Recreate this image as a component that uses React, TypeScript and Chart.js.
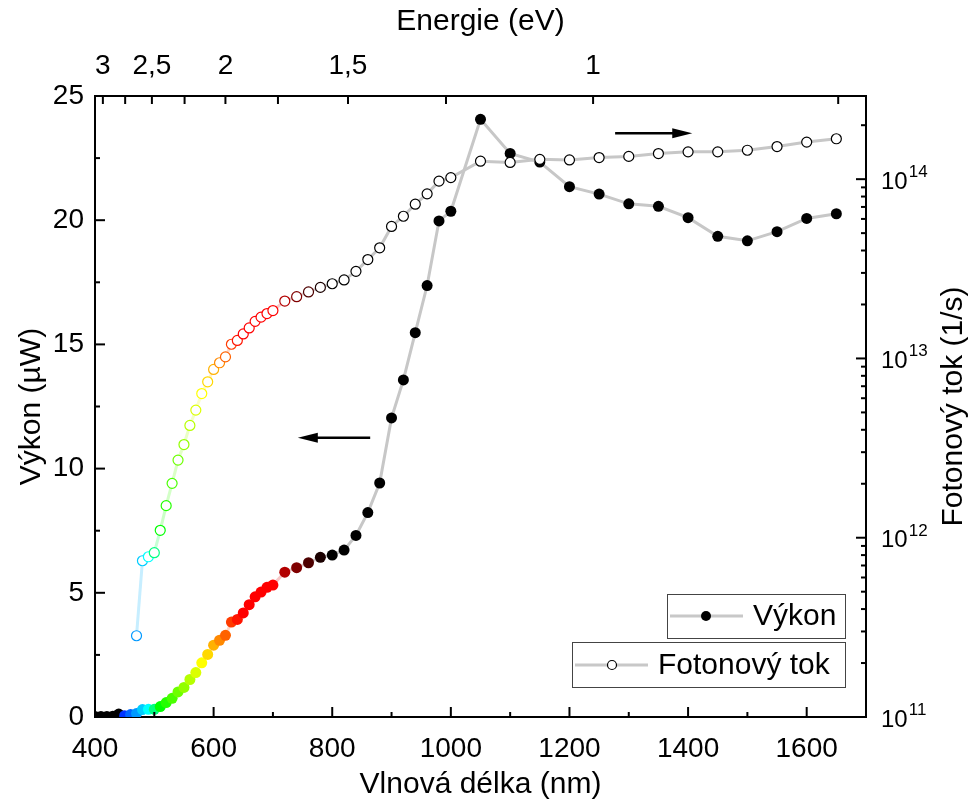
import React, { useEffect, useRef } from "react";
import { Chart, registerables } from "chart.js";

Chart.register(...registerables);

// ---------- data ----------
const powerWavelengths = [
  400, 410, 420, 430, 440, 450, 460, 470, 480, 490, 500, 510, 520, 530, 540, 550, 560, 570, 580, 590,
  600, 610, 620, 630, 640, 650, 660, 670, 680, 690, 700, 720, 740, 760, 780, 800, 820, 840, 860, 880,
  900, 920, 940, 960, 980, 1000, 1050, 1100, 1150, 1200, 1250, 1300, 1350, 1400, 1450, 1500, 1550, 1600, 1650,
];
const powerValues = [
  0.02, 0.02, 0.02, 0.03, 0.12, 0.05, 0.1, 0.14, 0.3, 0.31, 0.31, 0.42, 0.58, 0.75, 1.01, 1.19, 1.51, 1.79, 2.18, 2.52,
  2.89, 3.09, 3.29, 3.82, 3.93, 4.19, 4.52, 4.84, 5.03, 5.22, 5.31, 5.83, 6.01, 6.21, 6.43, 6.52, 6.72, 7.31, 8.23, 9.42,
  12.04, 13.57, 15.47, 17.37, 19.97, 20.36, 24.06, 22.69, 22.34, 21.35, 21.05, 20.66, 20.56, 20.1, 19.35, 19.17, 19.54, 20.07, 20.26,
];
const fluxWavelengths = [
  470, 480, 490, 500, 510, 520, 530, 540, 550, 560, 570, 580, 590, 600, 610, 620, 630, 640, 650, 660,
  670, 680, 690, 700, 720, 740, 760, 780, 800, 820, 840, 860, 880, 900, 920, 940, 960, 980, 1000,
  1050, 1100, 1150, 1200, 1250, 1300, 1350, 1400, 1450, 1500, 1550, 1600, 1650,
];
const fluxValues = [
  2.84e11, 7.44e11, 7.83e11, 8.25e11, 1.1e12, 1.51e12, 2.01e12, 2.71e12, 3.31e12, 4.23e12, 5.15e12, 6.37e12, 7.41e12, 8.68e12, 9.46e12, 1.02e13, 1.2e13, 1.26e13, 1.37e13, 1.48e13,
  1.61e13, 1.7e13, 1.78e13, 1.85e13, 2.09e13, 2.21e13, 2.35e13, 2.49e13, 2.61e13, 2.74e13, 3.06e13, 3.56e13, 4.14e13, 5.45e13, 6.21e13, 7.25e13, 8.28e13, 9.75e13, 1.02e14,
  1.26e14, 1.24e14, 1.29e14, 1.28e14, 1.32e14, 1.34e14, 1.39e14, 1.42e14, 1.42e14, 1.45e14, 1.52e14, 1.61e14, 1.68e14,
];

const xTicks = [400, 600, 800, 1000, 1200, 1400, 1600];
const xMinorTicks = [500, 700, 900, 1100, 1300, 1500, 1700];
const yTicks = [0, 5, 10, 15, 20, 25];
const yMinorTicks = [2.5, 7.5, 12.5, 17.5, 22.5];
const energyTicks = [3, 2.5, 2, 1.5, 1];
const energyLabels = ["3", "2,5", "2", "1,5", "1"];
const energyMinorTicks = [2.75, 2.25, 1.75, 1.25, 0.75];
const fluxExponents = [11, 12, 13, 14];
const HC = 1239.84;

// annotation arrows in data units: [fromWavelength, toWavelength, power]
const leftArrow = [864, 742, 11.24];
const rightArrow = [1277, 1407, 23.5];

// ---------- styling helpers ----------
const TICK_FAMILY = "'Liberation Sans Narrow', 'Liberation Sans', Arial, sans-serif";
const TEXT_FAMILY = "'Liberation Sans', Arial, sans-serif";

function wlColor(l: number): [number, number, number] {
  if (l < 445) return [0, 0, 0];
  if (l < 490) return [0, (l - 440) / 50, 1];
  if (l < 510) return [0, 1, (510 - l) / 20];
  if (l < 580) return [(l - 510) / 70, 1, 0];
  if (l < 645) return [1, (645 - l) / 65, 0];
  if (l <= 700) return [1, 0, 0];
  const f = Math.max(0, (790 - l) / 100);
  return [f, 0, 0];
}
const rgb = (c: number[]) => `rgb(${Math.round(c[0] * 255)},${Math.round(c[1] * 255)},${Math.round(c[2] * 255)})`;
const colorOf = (l: number) => rgb(wlColor(l));
const segColor = (wls: number[]) => (ctx: any) => {
  const a = wlColor(wls[ctx.p0DataIndex]);
  const b = wlColor(wls[ctx.p1DataIndex]);
  const m = [0, 1, 2].map((i) => ((a[i] + b[i]) / 2) * 0.22 + 0.78);
  return rgb(m);
};

const annotatePlugin = {
  id: "annotate",
  afterDraw(chart: any) {
    const ctx = chart.ctx as CanvasRenderingContext2D;
    const { x, xTop, y, yR } = chart.scales;
    const a = chart.chartArea;
    ctx.save();
    ctx.strokeStyle = "#000";
    ctx.lineWidth = 2;
    const seg = (x1: number, y1: number, x2: number, y2: number) => {
      ctx.beginPath();
      ctx.moveTo(x1, y1);
      ctx.lineTo(x2, y2);
      ctx.stroke();
    };
    // bottom ticks (inward)
    xTicks.forEach((v) => { const p = x.getPixelForValue(v); seg(p, a.bottom, p, a.bottom - 10); });
    xMinorTicks.forEach((v) => { const p = x.getPixelForValue(v); seg(p, a.bottom, p, a.bottom - 5); });
    // top ticks
    energyTicks.forEach((e) => { const p = xTop.getPixelForValue(HC / e); seg(p, a.top, p, a.top + 8); });
    energyMinorTicks.forEach((e) => { const p = xTop.getPixelForValue(HC / e); seg(p, a.top, p, a.top + 8); });
    // left ticks
    yTicks.forEach((v) => { const p = y.getPixelForValue(v); seg(a.left, p, a.left + 10, p); });
    yMinorTicks.forEach((v) => { const p = y.getPixelForValue(v); seg(a.left, p, a.left + 5, p); });
    // right ticks (log)
    fluxExponents.forEach((d) => {
      const p = yR.getPixelForValue(Math.pow(10, d));
      seg(a.right, p, a.right - 10, p);
      for (let k = 2; k <= 9; k++) {
        const v = k * Math.pow(10, d);
        if (v > yR.max) break;
        const q = yR.getPixelForValue(v);
        seg(a.right, q, a.right - 5, q);
      }
    });
    // right axis labels with superscripts
    ctx.fillStyle = "#000";
    fluxExponents.forEach((d) => {
      const p = yR.getPixelForValue(Math.pow(10, d));
      ctx.font = `24px ${TEXT_FAMILY}`;
      ctx.textAlign = "left";
      ctx.textBaseline = "middle";
      const x0 = a.right + 15;
      ctx.fillText("10", x0, p + 3);
      const w = ctx.measureText("10").width;
      ctx.font = `17px ${TEXT_FAMILY}`;
      ctx.textBaseline = "alphabetic";
      ctx.fillText(String(d), x0 + w + 1, p - 2);
    });
    // right axis title (reads bottom to top)
    ctx.save();
    ctx.font = `30px ${TEXT_FAMILY}`;
    ctx.textAlign = "center";
    ctx.textBaseline = "middle";
    ctx.translate(954, (a.top + a.bottom) / 2);
    ctx.rotate(-Math.PI / 2);
    ctx.fillText("Fotonový tok (1/s)", 0, 0);
    ctx.restore();
    // arrows
    const arrow = (fromL: number, toL: number, val: number) => {
      const x1 = x.getPixelForValue(fromL);
      const x2 = x.getPixelForValue(toL);
      const py = y.getPixelForValue(val);
      const dir = Math.sign(x2 - x1);
      ctx.strokeStyle = "#000";
      ctx.lineWidth = 2.5;
      seg(x1, py, x2 - dir * 18, py);
      ctx.beginPath();
      ctx.moveTo(x2, py);
      ctx.lineTo(x2 - dir * 20, py - 5);
      ctx.lineTo(x2 - dir * 20, py + 5);
      ctx.closePath();
      ctx.fill();
    };
    arrow(leftArrow[0], leftArrow[1], leftArrow[2]);
    arrow(rightArrow[0], rightArrow[1], rightArrow[2]);
    // legend
    ctx.lineWidth = 1;
    ctx.strokeStyle = "#444";
    ctx.strokeRect(667.5, 594.5, 178, 44);
    ctx.strokeRect(572.5, 642.5, 273, 45);
    ctx.strokeStyle = "#c8c8c8";
    ctx.lineWidth = 3;
    seg(670, 616, 743, 616);
    seg(575, 665, 648, 665);
    ctx.fillStyle = "#000";
    ctx.beginPath();
    ctx.arc(706, 616, 5, 0, Math.PI * 2);
    ctx.fill();
    ctx.fillStyle = "#fff";
    ctx.strokeStyle = "#000";
    ctx.lineWidth = 1.2;
    ctx.beginPath();
    ctx.arc(612, 665, 4.5, 0, Math.PI * 2);
    ctx.fill();
    ctx.stroke();
    ctx.fillStyle = "#000";
    ctx.font = `30px ${TEXT_FAMILY}`;
    ctx.textAlign = "left";
    ctx.textBaseline = "middle";
    ctx.fillText("Výkon", 753, 617);
    ctx.fillText("Fotonový tok", 658, 666);
    ctx.restore();
  },
};

export default function App() {
  const ref = useRef<HTMLCanvasElement>(null);
  useEffect(() => {
    const canvas = ref.current;
    if (!canvas) return;
    const tickFont = { family: TICK_FAMILY, size: 28 };
    const titleFont = { family: TEXT_FAMILY, size: 30 };
    const border = { display: true, color: "#000", width: 2 };
    const chart = new Chart(canvas, {
      type: "line",
      data: {
        datasets: [
          {
            label: "Fotonový tok",
            data: fluxWavelengths.map((w, i) => ({ x: w, y: fluxValues[i] })),
            xAxisID: "x",
            yAxisID: "yR",
            order: 0,
            borderColor: "#c8c8c8",
            borderWidth: 3,
            pointRadius: 5,
            pointBorderWidth: 1.2,
            pointBackgroundColor: "#ffffff",
            pointBorderColor: fluxWavelengths.map(colorOf),
            segment: { borderColor: segColor(fluxWavelengths) },
            tension: 0,
          },
          {
            label: "Výkon",
            data: powerWavelengths.map((w, i) => ({ x: w, y: powerValues[i] })),
            xAxisID: "x",
            yAxisID: "y",
            order: 1,
            borderColor: "#c8c8c8",
            borderWidth: 3,
            pointRadius: 5.5,
            pointBorderWidth: 0,
            pointBackgroundColor: powerWavelengths.map(colorOf),
            pointBorderColor: powerWavelengths.map(colorOf),
            segment: { borderColor: segColor(powerWavelengths) },
            tension: 0,
          },
        ],
      },
      options: {
        animation: false,
        responsive: false,
        maintainAspectRatio: false,
        layout: { padding: 0 },
        plugins: { legend: { display: false }, tooltip: { enabled: false } },
        scales: {
          x: {
            type: "linear",
            position: "bottom",
            min: 400,
            max: 1700,
            afterBuildTicks: (s: any) => { s.ticks = xTicks.map((v) => ({ value: v })); },
            afterFit: (s: any) => { s.height = 92; },
            grid: { display: false, drawTicks: false },
            border,
            ticks: {
              font: tickFont, color: "#000", padding: 15, autoSkip: false, maxRotation: 0,
              callback: (v: any) => String(v),
            },
            title: { display: true, text: "Vlnová délka (nm)", font: titleFont, color: "#000", padding: { top: 0, bottom: 6 } },
          },
          xTop: {
            type: "linear",
            position: "top",
            min: 400,
            max: 1700,
            afterBuildTicks: (s: any) => { s.ticks = energyTicks.map((e) => ({ value: HC / e })); },
            afterFit: (s: any) => { s.height = 96; },
            grid: { display: false, drawTicks: false },
            border,
            ticks: {
              font: tickFont, color: "#000", padding: 13, autoSkip: false, maxRotation: 0,
              callback: (_v: any, i: number) => energyLabels[i],
            },
            title: { display: true, text: "Energie (eV)", font: titleFont, color: "#000", padding: { top: 4, bottom: 0 } },
          },
          y: {
            type: "linear",
            position: "left",
            min: 0,
            max: 25,
            afterBuildTicks: (s: any) => { s.ticks = yTicks.map((v) => ({ value: v })); },
            afterFit: (s: any) => { s.width = 95; },
            grid: { display: false, drawTicks: false },
            border,
            ticks: { font: tickFont, color: "#000", padding: 11, autoSkip: false, callback: (v: any) => String(v) },
            title: { display: true, text: "Výkon (µW)", font: titleFont, color: "#000", padding: { top: 14, bottom: 0 } },
          },
          yR: {
            type: "logarithmic",
            position: "right",
            min: 1e11,
            max: 2.91e14,
            afterFit: (s: any) => { s.width = 110; },
            grid: { display: false, drawTicks: false },
            border,
            ticks: { display: false },
            title: { display: false },
          },
        },
      } as any,
      plugins: [annotatePlugin],
    });
    return () => chart.destroy();
  }, []);
  return (
    <div style={{ position: "fixed", left: 0, top: 0, width: 976, height: 809, background: "#fff" }}>
      <canvas ref={ref} width={976} height={809} style={{ display: "block", width: 976, height: 809 }} />
    </div>
  );
}
